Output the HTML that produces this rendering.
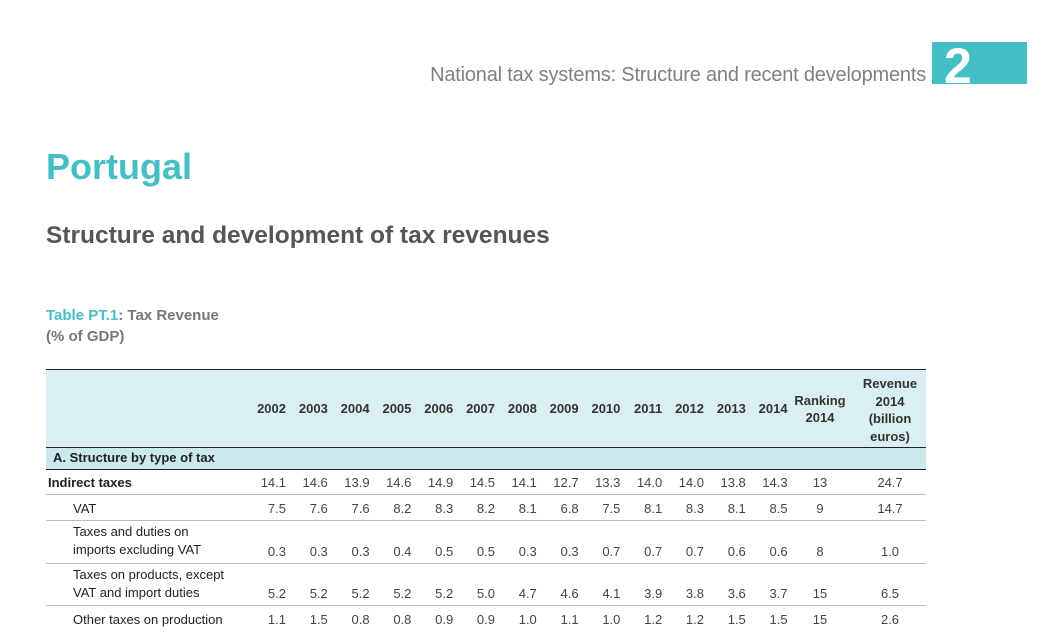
<!DOCTYPE html>
<html><head><meta charset="utf-8">
<style>
body{margin:0;width:1041px;height:633px;overflow:hidden;background:#fff;font-family:"Liberation Sans",sans-serif;position:relative}
.a{position:absolute;white-space:nowrap}
.num{position:absolute;font-size:13px;color:#444;text-align:right;width:40px}
.lab{position:absolute;font-size:13px;color:#222;line-height:18px}
.hline{position:absolute;left:46px;width:880px;height:1px;background:#bbb}
</style></head><body>
<div class="a" style="right:115px;top:64px;font-size:20px;color:#808080;letter-spacing:-0.2px">National tax systems: Structure and recent developments</div>
<div class="a" style="left:932px;top:42px;width:95px;height:42px;background:#45bfc6;overflow:hidden"><span style="position:absolute;left:12px;top:-5px;font-size:50px;font-weight:bold;color:#fff">2</span></div>
<div class="a" style="left:46px;top:146px;font-size:36px;font-weight:bold;color:#45bfc6">Portugal</div>
<div class="a" style="left:46px;top:222px;font-size:24.5px;font-weight:bold;color:#555">Structure and development of tax revenues</div>
<div class="a" style="left:46px;top:305px;font-size:15px;font-weight:bold;color:#777;line-height:21px"><span style="color:#45bfc6">Table PT.1</span>: Tax Revenue<br>(% of GDP)</div>

<div class="a" style="left:46px;top:369px;width:880px;height:78px;background:#daeff1;border-top:1px solid #222"></div>
<div class="a" style="left:46px;top:447px;width:880px;height:21px;background:#cbe9ec;border-top:1px solid #222;border-bottom:1px solid #222"></div>
<div class="a" style="left:53px;top:450px;font-size:13px;font-weight:bold;color:#222">A. Structure by type of tax</div>
<div class="a" style="left:790px;top:392px;width:60px;text-align:center;font-size:13px;font-weight:bold;color:#333;line-height:17px">Ranking<br>2014</div>
<div class="a" style="left:855px;top:375px;width:70px;text-align:center;font-size:13px;font-weight:bold;color:#333;line-height:17.5px">Revenue<br>2014<br>(billion<br>euros)</div>
<div id="t"></div>
<script>
const years=["2002","2003","2004","2005","2006","2007","2008","2009","2010","2011","2012","2013","2014"];
const rowLabels=["Indirect taxes","VAT","Taxes and duties on<br>imports excluding VAT","Taxes on products, except<br>VAT and import duties","Other taxes on production"];
const indirect=["14.1","14.6","13.9","14.6","14.9","14.5","14.1","12.7","13.3","14.0","14.0","13.8","14.3"];
const vat=["7.5","7.6","7.6","8.2","8.3","8.2","8.1","6.8","7.5","8.1","8.3","8.1","8.5"];
const imports=["0.3","0.3","0.3","0.4","0.5","0.5","0.3","0.3","0.7","0.7","0.7","0.6","0.6"];
const products=["5.2","5.2","5.2","5.2","5.2","5.0","4.7","4.6","4.1","3.9","3.8","3.6","3.7"];
const other=["1.1","1.5","0.8","0.8","0.9","0.9","1.0","1.1","1.0","1.2","1.2","1.5","1.5"];
const ranking=["13","9","8","15","15"];
const revenue=["24.7","14.7","1.0","6.5","2.6"];
const series=[indirect,vat,imports,products,other];
const rowTop=[468,494,520,563,605], rowBot=[494,520,563,605,631];
const t=document.getElementById('t');
function colRight(i){return 286+i*41.8;}
years.forEach((y,i)=>{const d=document.createElement('div');d.className='a';


d.style.cssText=`left:${colRight(i)-40}px;width:40px;text-align:right;top:401px;font-size:13px;font-weight:bold;color:#333`;d.textContent=y;t.appendChild(d);});
series.forEach((s,r)=>{
 const yb=rowBot[r]-19;
 const l=document.createElement('div');l.className='lab';
 
 
 l.style.left=(r==0?48:73)+'px';l.style.top=(r==2||r==3?rowTop[r]+3:yb-1)+'px';
 if(r==0)l.style.fontWeight='bold';l.innerHTML=rowLabels[r];t.appendChild(l);
 s.forEach((v,i)=>{const d=document.createElement('div');d.className='num';
 
 
 d.style.left=(colRight(i)-40)+'px';d.style.top=yb+'px';d.textContent=v;t.appendChild(d);});
 const rk=document.createElement('div');rk.className='num';
 
 
 rk.style.cssText=`left:800px;width:40px;text-align:center;top:${yb}px`;rk.textContent=ranking[r];t.appendChild(rk);
 const rv=document.createElement('div');rv.className='num';
 
 
 rv.style.cssText=`left:870px;width:40px;text-align:center;top:${yb}px`;rv.textContent=revenue[r];t.appendChild(rv);
 if(r<4){const h=document.createElement('div');h.className='hline';
 
 
 h.style.top=rowBot[r]+'px';t.appendChild(h);}
});
</script>
</body></html>
